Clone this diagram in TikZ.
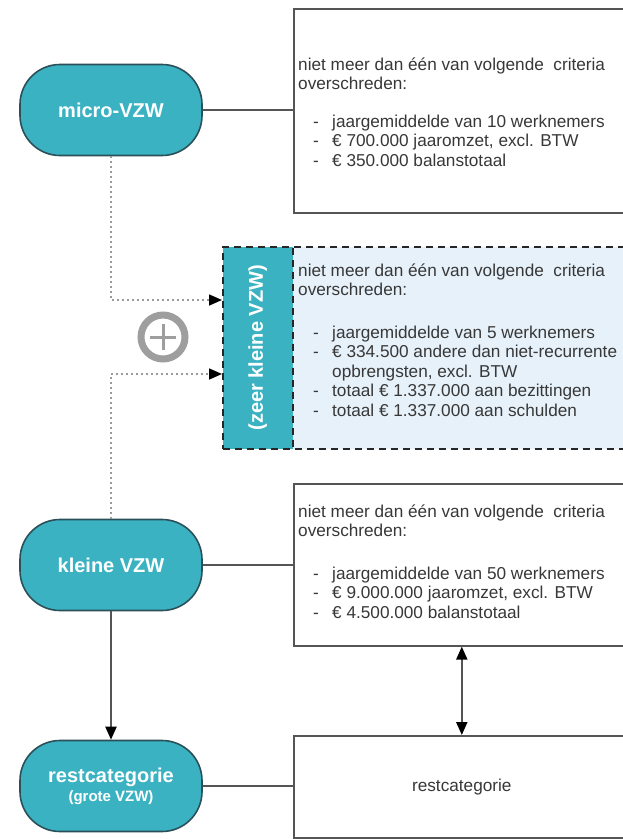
\documentclass[tikz,border=0pt]{standalone}
\usepackage{fontspec}
\setmainfont{Liberation Sans}
\usetikzlibrary{arrows.meta}
\definecolor{tealfill}{HTML}{3AB2C2}
\definecolor{tealborder}{HTML}{2B5059}
\definecolor{lightblue}{HTML}{E6F1FA}
\definecolor{linegray}{HTML}{555555}
\definecolor{dotgray}{HTML}{9A9A9A}
\definecolor{txt}{HTML}{383838}
\definecolor{plusgray}{HTML}{9E9E9E}
\newcommand{\bl}[1]{\hspace*{15pt}\makebox[19pt][l]{-}#1}
\begin{document}
\begin{tikzpicture}[x=1pt,y=-1pt,
  stadium/.style={draw=tealborder, line width=1.6pt, fill=tealfill, rounded corners=40pt,
    minimum width=182pt, minimum height=91pt, inner sep=0pt, text=white,
    font=\fontsize{20}{22}\selectfont\bfseries, align=center},
  infobox/.style={draw=linegray, line width=1.6pt, fill=white, inner sep=0pt, anchor=north west},
  bodytext/.style={anchor=north west, inner sep=0pt, text=txt, align=left,
    font=\fontsize{17.2}{19.5}\selectfont},
  conn/.style={draw=linegray, line width=2pt},
  tip/.style={-{Triangle[length=13pt,width=11pt,color=black]}},
  dotline/.style={draw=dotgray, line width=1.6pt, dash pattern=on 2pt off 3pt},
  dashbox/.style={draw=black!85, line width=1.6pt, dash pattern=on 7pt off 5pt, inner sep=0pt, anchor=north west}
]
\clip (0,0) rectangle (623,839);
\fill[white] (0,0) rectangle (623,839);

% left column nodes
\node[stadium] (micro) at (111,110) {micro-VZW};
\node[stadium] (kleine) at (111,565) {kleine VZW};
\node[stadium] (rest) at (111,786) {restcategorie\\[-3pt]{\fontsize{15}{17}\selectfont (grote VZW)}};

% boxes
\node[infobox, minimum width=347pt, minimum height=204pt] (box1) at (293,8) {};
\node[dashbox, fill=lightblue, minimum width=418pt, minimum height=202pt] (zbox) at (222,246) {};
\node[dashbox, fill=tealfill, minimum width=70pt, minimum height=202pt] (strip) at (222,246) {};
\node[infobox, minimum width=347pt, minimum height=162pt] (box3) at (293,483) {};
\node[infobox, minimum width=347pt, minimum height=102pt] (box4) at (293,735) {};

% texts
\node[bodytext] (t1) at (298,57.5) {niet meer dan één van volgende\ \ criteria\\
overschreden:\\[18pt]
\bl{jaargemiddelde van 10 werknemers}\\
\bl{€ 700.000 jaaromzet, excl. BTW}\\
\bl{€ 350.000 balanstotaal}};

\node[bodytext] (t2) at (298,263.5) {niet meer dan één van volgende\ \ criteria\\
overschreden:\\[23pt]
\bl{jaargemiddelde van 5 werknemers}\\
\bl{€ 334.500 andere dan niet-recurrente}\\
\hspace*{34pt}opbrengsten, excl. BTW\\
\bl{totaal € 1.337.000 aan bezittingen}\\
\bl{totaal € 1.337.000 aan schulden}};

\node[bodytext] (t3) at (298,504.5) {niet meer dan één van volgende\ \ criteria\\
overschreden:\\[23pt]
\bl{jaargemiddelde van 50 werknemers}\\
\bl{€ 9.000.000 jaaromzet, excl. BTW}\\
\bl{€ 4.500.000 balanstotaal}};

\node[text=txt, font=\fontsize{17.2}{19.5}\selectfont, inner sep=0pt] (t4) at ([xshift=-5.5pt]box4.center) {restcategorie};

\node[rotate=90, text=white, font=\fontsize{20}{22}\selectfont\bfseries, inner sep=0pt] (zlabel) at (strip.center) {(zeer kleine VZW)};

% plus symbol
\node[circle, draw=plusgray, line width=7pt, minimum size=44pt, inner sep=0pt] (plus) at (163,337) {};
\draw[plusgray, line width=3pt] ([xshift=-13pt]plus.center) -- ([xshift=13pt]plus.center);
\draw[plusgray, line width=3pt] ([yshift=-13pt]plus.center) -- ([yshift=13pt]plus.center);

% connectors
\draw[conn] (micro.east) -- (micro.east -| box1.west);
\draw[conn] (kleine.east) -- (kleine.east -| box3.west);
\draw[conn] (rest.east) -- (rest.east -| box4.west);
\draw[conn, tip] (kleine.south) -- (rest.north);
\draw[conn, {Triangle[length=13pt,width=11pt,color=black]}-{Triangle[length=13pt,width=11pt,color=black]}]
  ([xshift=-5.5pt]box3.south) -- ([xshift=-5.5pt]box4.north);

\coordinate (in1) at (222,300);
\coordinate (in2) at (222,374);
\draw[dotline, tip] (micro.south) |- (in1);
\draw[dotline, tip] (kleine.north) |- (in2);
\end{tikzpicture}
\end{document}
